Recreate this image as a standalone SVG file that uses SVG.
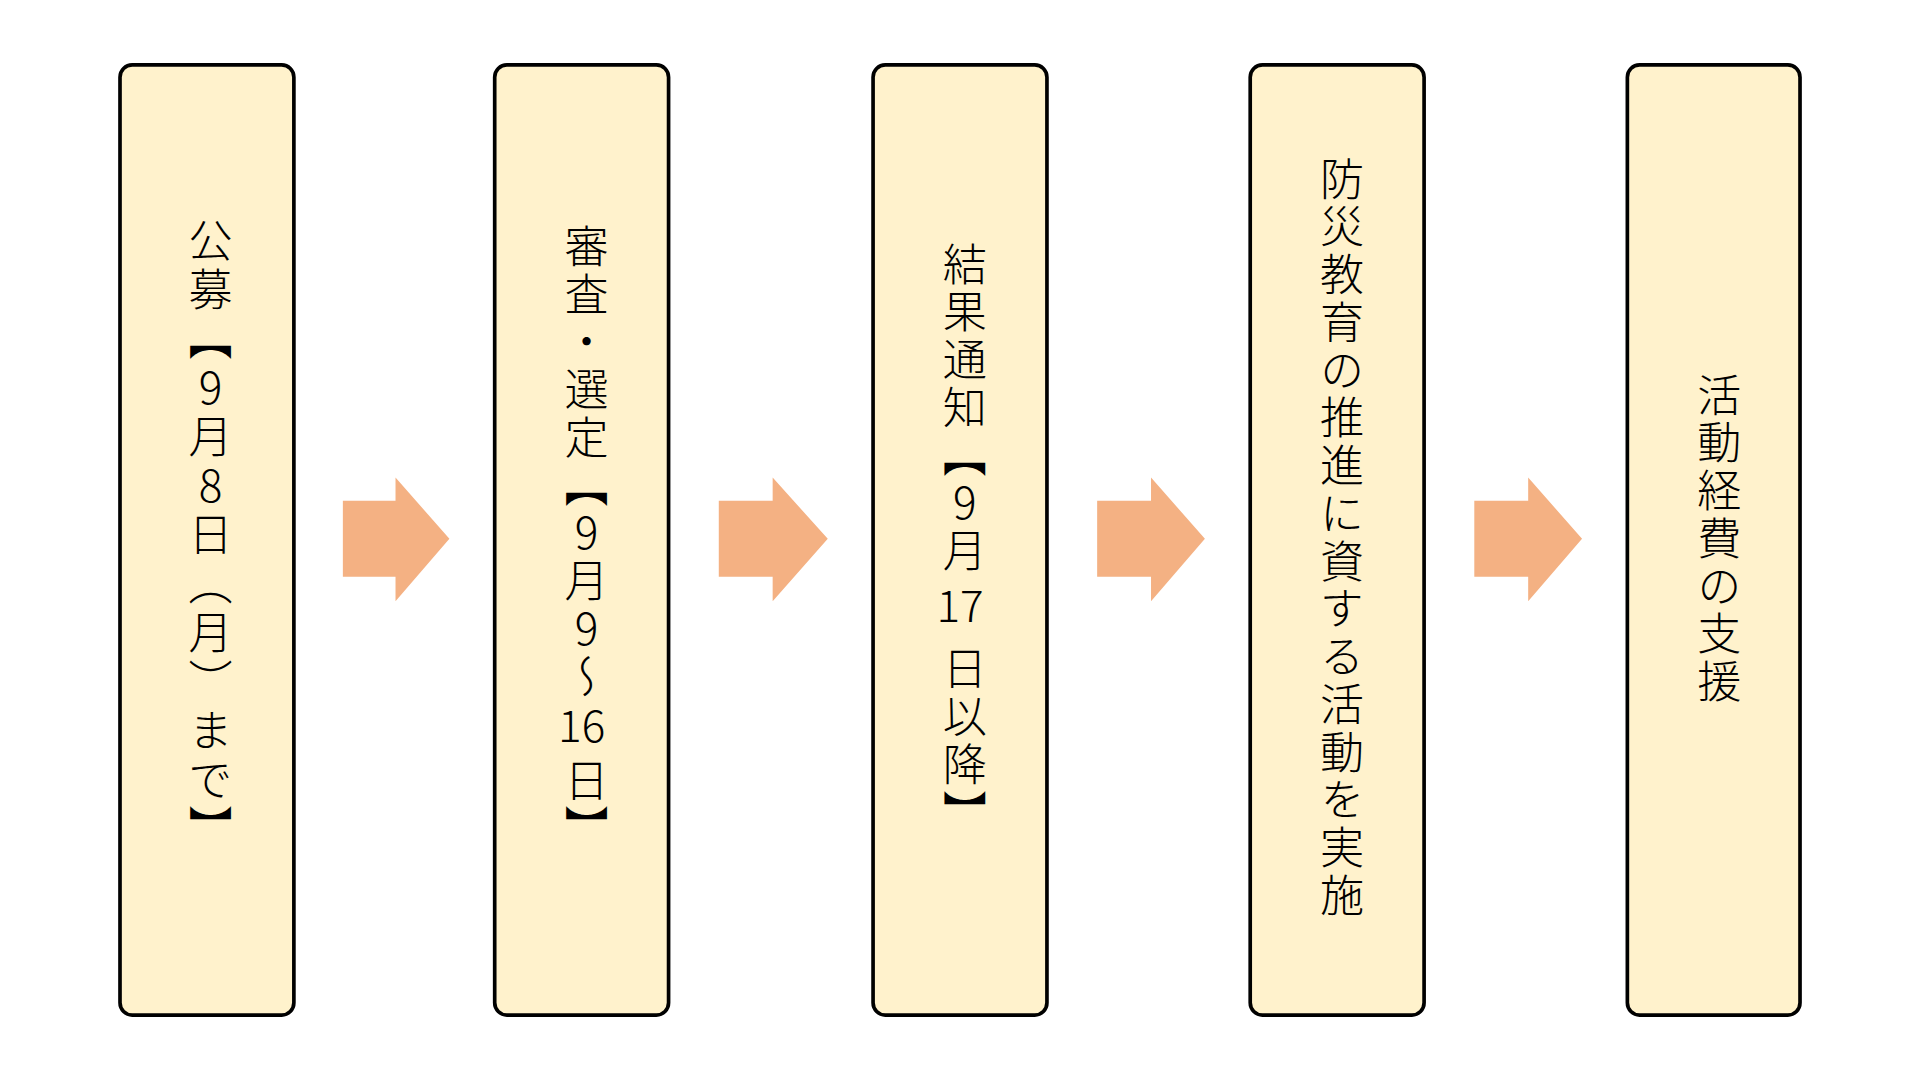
<svg xmlns="http://www.w3.org/2000/svg" width="1920" height="1080" viewBox="0 0 1920 1080">
<style>
.box{fill:#FFF2CC;stroke:#000;stroke-width:3}
.arr{fill:#F4B183}
.v{font-family:"Noto Sans CJK JP","Noto Sans CJK SC",sans-serif;font-size:36px;font-weight:300;writing-mode:vertical-rl;text-orientation:upright;letter-spacing:3px;text-anchor:middle;fill:#000}
.h{font-family:"Noto Sans CJK JP",sans-serif;font-size:36px;font-weight:300;text-anchor:middle;fill:#000}
</style>
<rect width="1920" height="1080" fill="#fff"/>
<g transform="scale(1.2245)">
<g id="connectors">
<polygon class="arr" points="280,409 323,409 323,390 367,440 323,491 323,471 280,471"/>
<polygon class="arr" points="587,409 631,409 631,390 676,440 631,491 631,471 587,471"/>
<polygon class="arr" points="896,409 940,409 940,390 984,440 940,491 940,471 896,471"/>
<polygon class="arr" points="1204,409 1248,409 1248,390 1292,440 1248,491 1248,471 1204,471"/>
</g>
<g id="n1"><rect class="box" x="98" y="53" width="142" height="776" rx="10"/>
<text class="v" x="172" y="438" style="letter-spacing:4px">公募【9月8日（月）まで】</text></g>
<g id="n2"><rect class="box" x="404" y="53" width="142" height="776" rx="10"/>
<text class="v" x="479" y="378">審査・選定【9月9～</text>
<text class="h" x="475" y="606">16</text>
<text class="v" x="479" y="658">日】</text></g>
<g id="n3"><rect class="box" x="713" y="53" width="142" height="776" rx="10"/>
<text class="v" x="788" y="334">結果通知【9月</text>
<text class="h" x="784" y="508">17</text>
<text class="v" x="788" y="606">日以降】</text></g>
<g id="n4"><rect class="box" x="1021" y="53" width="142" height="776" rx="10"/>
<text class="v" x="1096" y="440">防災教育の推進に資する活動を実施</text></g>
<g id="n5"><rect class="box" x="1329" y="53" width="141" height="776" rx="10"/>
<text class="v" x="1404" y="441">活動経費の支援</text></g>
</g>
</svg>
